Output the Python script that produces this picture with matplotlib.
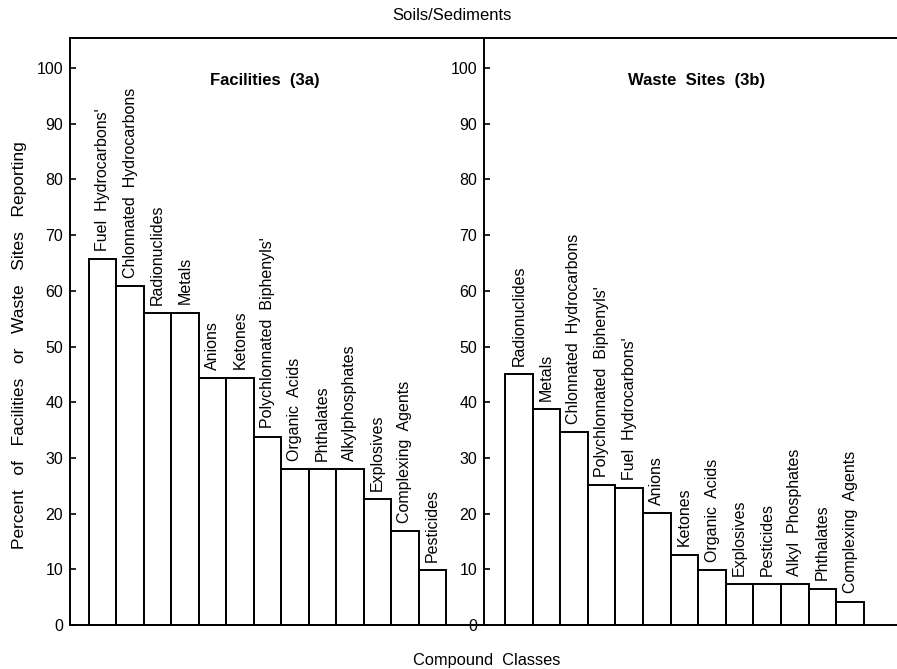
import matplotlib
matplotlib.use("Agg")
import matplotlib.pyplot as plt

plt.rcParams["font.family"] = ["Liberation Sans", "DejaVu Sans"]

facility_labels = [
    "Fuel  Hydrocarbons'", "Chlonnated  Hydrocarbons", "Radionuclides", "Metals",
    "Anions", "Ketones", "Polychlonnated  Biphenyls'", "Organic  Acids",
    "Phthalates", "Alkylphosphates", "Explosives", "Complexing  Agents", "Pesticides",
]
facility_values = [65.7, 60.8, 56.0, 56.1, 44.3, 44.4, 33.8, 28.0, 28.0, 28.0, 22.6, 16.9, 9.8]

waste_labels = [
    "Radionuclides", "Metals", "Chlonnated  Hydrocarbons", "Polychlonnated  Biphenyls'",
    "Fuel  Hydrocarbons'", "Anions", "Ketones", "Organic  Acids", "Explosives",
    "Pesticides", "Alkyl  Phosphates", "Phthalates", "Complexing  Agents",
]
waste_values = [45.0, 38.7, 34.6, 25.1, 24.6, 20.1, 12.6, 9.8, 7.3, 7.3, 7.3, 6.5, 4.2]

y_ticks = list(range(0, 101, 10))

fig = plt.figure(figsize=(8.97, 6.69), dpi=100)
ax_left = fig.add_axes([70 / 897, 44 / 669, 414 / 897, 587 / 669])
ax_right = fig.add_axes([484 / 897, 44 / 669, 413 / 897, 587 / 669])

panels = [
    (ax_left, facility_labels, facility_values, (-1.19, 13.88)),
    (ax_right, waste_labels, waste_values, (-1.26, 13.7)),
]
for axis, labels, values, xlim in panels:
    x = range(len(values))
    axis.bar(list(x), values, width=1.0, facecolor="white", edgecolor="black", linewidth=1.4)
    for xi, (label, value) in enumerate(zip(labels, values)):
        axis.text(xi, value + 1.5, label, rotation=90, ha="center", va="bottom", fontsize=11.5)
    axis.set_xlim(*xlim)
    axis.set_ylim(0, 105.4)
    axis.set_xticks([])
    axis.set_yticks(y_ticks)
    axis.tick_params(axis="y", direction="in", length=4, width=1.2, pad=5, labelsize=11.5)
    axis.spines["right"].set_visible(False)
    for side in ["left", "top", "bottom"]:
        axis.spines[side].set_linewidth(1.4)

fig.text(265 / 897, 1 - 80 / 669, "Facilities  (3a)", ha="center", va="center",
         fontsize=12, fontweight="bold")
fig.text(697 / 897, 1 - 80 / 669, "Waste  Sites  (3b)", ha="center", va="center",
         fontsize=12, fontweight="bold")
fig.text(452 / 897, 1 - 16 / 669, "Soils/Sediments", ha="center", va="center", fontsize=12)
fig.text(487 / 897, 1 - 661 / 669, "Compound  Classes", ha="center", va="center", fontsize=11.8)
fig.text(20 / 897, 1 - 345 / 669, "Percent   of   Facilities   or   Waste   Sites   Reporting",
         ha="center", va="center", rotation=90, fontsize=12.5)

fig.savefig("out.png", dpi=100, facecolor="white")
